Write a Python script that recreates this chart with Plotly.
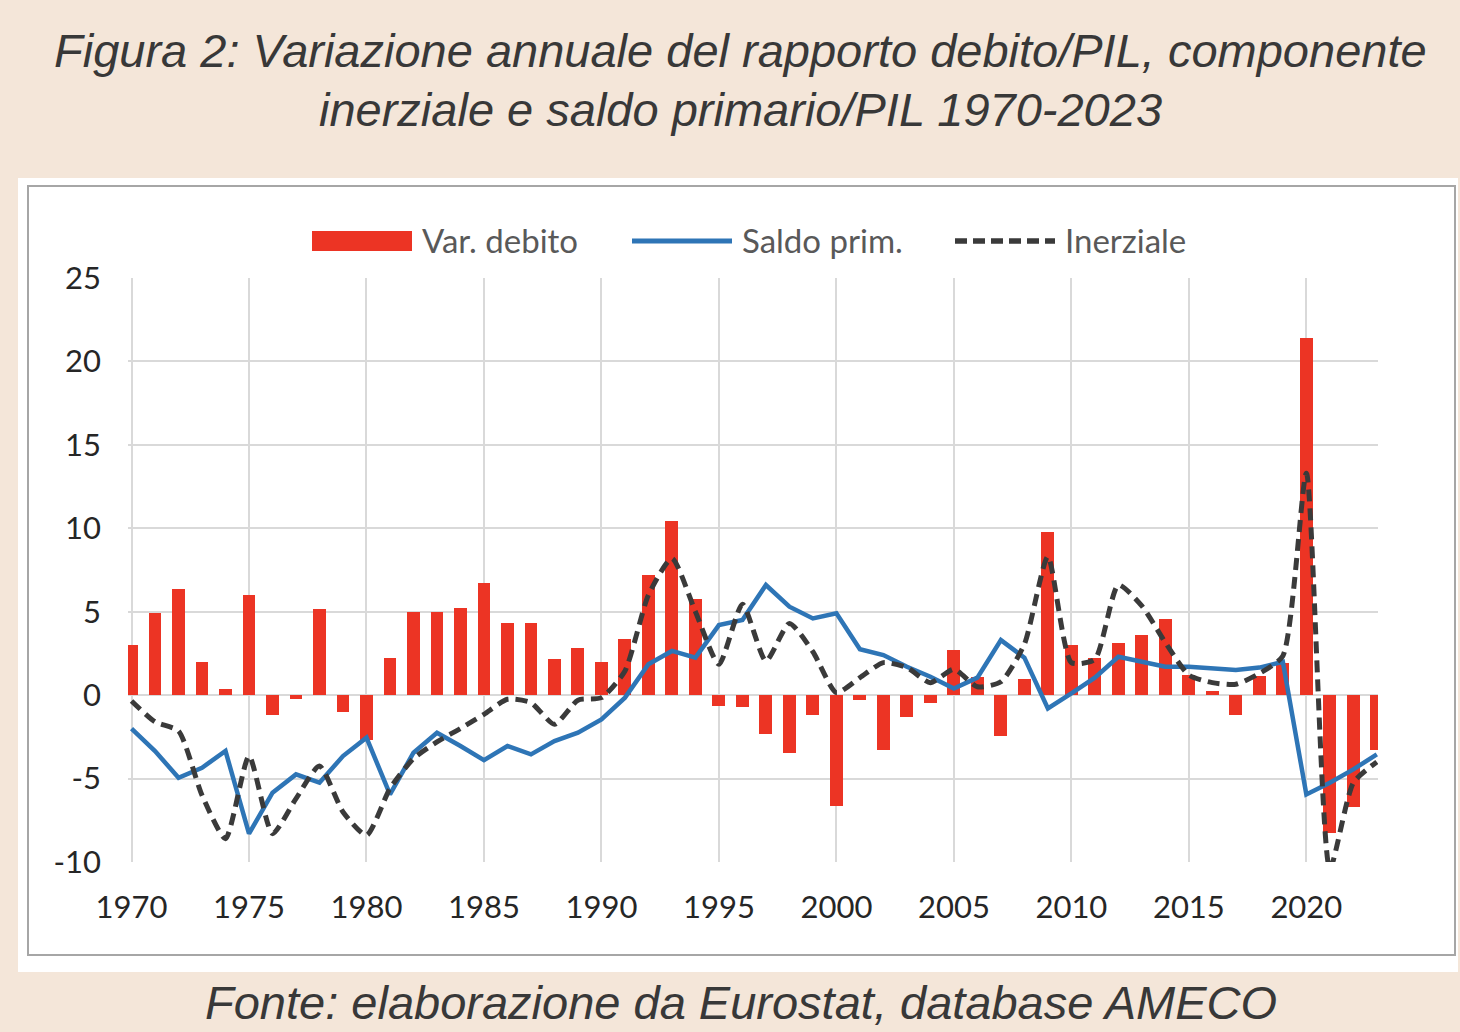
import plotly.graph_objects as go

years = list(range(1970, 2024))
var_debito = [3.0, 4.95, 6.35, 2.0, 0.35, 6.0, -1.2, -0.25, 5.15, -1.0,
              -2.7, 2.2, 5.0, 5.0, 5.25, 6.75, 4.35, 4.35, 2.15, 2.85,
              2.0, 3.35, 7.2, 10.45, 5.75, -0.65, -0.7, -2.3, -3.45, -1.2,
              -6.65, -0.3, -3.3, -1.3, -0.45, 2.7, 1.1, -2.45, 0.95, 9.8,
              3.0, 2.2, 3.15, 3.6, 4.55, 1.2, 0.25, -1.2, 1.15, 1.9,
              21.4, -8.25, -6.7, -3.3]
saldo_prim = [-2.0, -3.35, -4.95, -4.35, -3.35, -8.3, -5.85, -4.75, -5.25, -3.65,
              -2.55, -5.95, -3.45, -2.25, -3.05, -3.9, -3.05, -3.55, -2.75, -2.25,
              -1.45, -0.15, 1.85, 2.65, 2.25, 4.2, 4.5, 6.6, 5.3, 4.6,
              4.9, 2.75, 2.4, 1.7, 1.1, 0.4, 1.05, 3.3, 2.25, -0.8,
              0.1, 1.05, 2.3, 2.0, 1.7, 1.7, 1.6, 1.5, 1.65, 2.0,
              -5.95, -5.25, -4.45, -3.55]
inerziale = [-0.35, -1.6, -2.15, -6.0, -8.6, -3.65, -8.3, -6.2, -4.25, -7.0,
             -8.4, -5.6, -3.8, -2.8, -2.0, -1.15, -0.25, -0.45, -1.75, -0.3,
             -0.15, 1.45, 6.0, 8.2, 5.0, 1.85, 5.45, 2.05, 4.3, 2.6,
             0.15, 1.05, 1.95, 1.65, 0.75, 1.55, 0.5, 0.8, 3.05, 8.3,
             1.95, 2.15, 6.6, 5.35, 3.15, 1.2, 0.75, 0.65, 1.3, 2.35,
             13.3, -10.4, -5.25, -4.0]
series_names = ["Var. debito", "Saldo prim.", "Inerziale"]
x_ticks = list(range(1970, 2021, 5))
y_ticks = [-10, -5, 0, 5, 10, 15, 20, 25]
y_ticklabels = ["-10", "-5", "0", "5", "10", "15", "20", "25"]
title_lines = ["Figura 2: Variazione annuale del rapporto debito/PIL, componente",
               "inerziale e saldo primario/PIL 1970-2023"]
source_text = "Fonte: elaborazione da Eurostat, database AMECO"

RED = "#EC3424"
BLUE = "#2E75B6"
DARK = "#3A3A3A"
BEIGE = "#F4E6D9"

FW, FH = 1460, 1032
L, R, T, B = 128, 82, 278, 170
PW, PH = FW - L - R, FH - T - B


def px_x(p):
    return (p - L) / PW


def px_y(p):
    return (FH - B - p) / PH


fig = go.Figure()
fig.add_trace(go.Bar(x=years, y=var_debito, name=series_names[0],
                     marker=dict(color=RED, line=dict(width=0)), width=0.55,
                     showlegend=False))
fig.add_trace(go.Scatter(x=years, y=saldo_prim, name=series_names[1], mode="lines",
                         line=dict(color=BLUE, width=4.5), showlegend=False))
fig.add_trace(go.Scatter(x=years, y=inerziale, name=series_names[2], mode="lines",
                         line=dict(color=DARK, width=5, dash="12px,7px",
                                   shape="spline", smoothing=0.6),
                         showlegend=False))

shapes = [
    dict(type="rect", xref="paper", yref="paper", layer="below",
         x0=px_x(18), x1=px_x(1458), y0=px_y(972), y1=px_y(178),
         fillcolor="white", line=dict(width=0)),
    dict(type="rect", xref="paper", yref="paper", layer="below",
         x0=px_x(28), x1=px_x(1455), y0=px_y(955), y1=px_y(186),
         fillcolor="white", line=dict(color="#A6A6A6", width=2)),
    # legend symbols
    dict(type="rect", xref="paper", yref="paper",
         x0=px_x(312), x1=px_x(412), y0=px_y(251), y1=px_y(231),
         fillcolor=RED, line=dict(width=0)),
    dict(type="line", xref="paper", yref="paper",
         x0=px_x(632), x1=px_x(732), y0=px_y(241), y1=px_y(241),
         line=dict(color=BLUE, width=5)),
    dict(type="line", xref="paper", yref="paper",
         x0=px_x(955), x1=px_x(1055), y0=px_y(241), y1=px_y(241),
         line=dict(color=DARK, width=5.5, dash="12px,6px")),
]

TFONT = dict(family="Liberation Sans", size=47, color="#383838", style="italic")
annotations = [
    dict(text=title_lines[0], x=px_x(740), y=px_y(51), xref="paper", yref="paper",
         showarrow=False, xanchor="center", yanchor="middle", font=TFONT),
    dict(text=title_lines[1], x=px_x(740), y=px_y(110), xref="paper", yref="paper",
         showarrow=False, xanchor="center", yanchor="middle", font=TFONT),
    dict(text=source_text, x=px_x(741), y=px_y(1002), xref="paper", yref="paper",
         showarrow=False, xanchor="center", yanchor="middle", font=TFONT),
]
for name, xpos in zip(series_names, [420, 740, 1063]):
    annotations.append(dict(text=name, x=px_x(xpos), y=px_y(240), xref="paper", yref="paper",
                            showarrow=False, xanchor="left", yanchor="middle",
                            font=dict(family="Lato", size=33, color="#595959")))

TICKFONT = dict(family="Lato", size=31, color="#262626")
fig.update_layout(
    width=FW, height=FH,
    margin=dict(l=L, r=R, t=T, b=B, autoexpand=False),
    paper_bgcolor=BEIGE, plot_bgcolor="white",
    shapes=shapes, annotations=annotations,
    showlegend=False, bargap=0,
    xaxis=dict(range=[1969.85, 2023.05], tickvals=x_ticks, showgrid=True,
               gridcolor="#D9D9D9", gridwidth=2, zeroline=False, showline=False,
               ticks="", ticklabelstandoff=24, tickfont=TICKFONT),
    yaxis=dict(range=[-10, 25], tickvals=y_ticks, ticktext=y_ticklabels, showgrid=True,
               gridcolor="#D9D9D9", gridwidth=2, zeroline=False, showline=False,
               ticks="", ticklabelstandoff=26, tickfont=TICKFONT),
)

fig.write_html("out.html")
